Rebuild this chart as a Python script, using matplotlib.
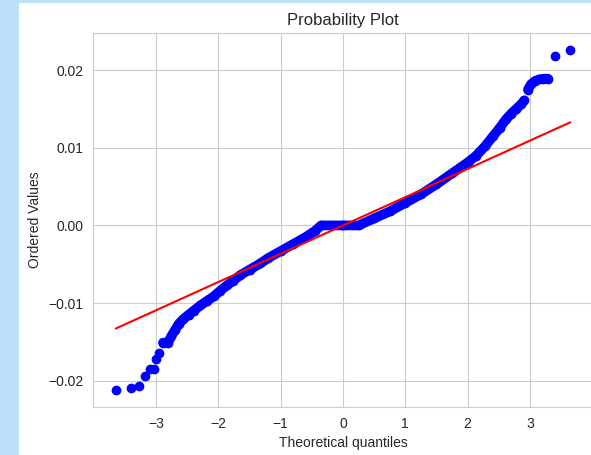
import numpy as np
import matplotlib
matplotlib.use('Agg')
import matplotlib.pyplot as plt
import seaborn as sns

# theoretical quantiles and ordered values
osm = [-3.65, -3.41, -3.27, -3.18, -3.10, -3.03, -3.00, -2.96, -2.89, -2.81,
       -2.76, -2.70, -2.64, -2.57, -2.48, -2.40, -2.29, -2.18, -2.07, -1.97,
       -1.86, -1.76, -1.65, -1.50, -1.33, -1.20, -1.00, -0.80, -0.60, -0.45,
       -0.35, 0.00, 0.25, 0.50, 0.75, 1.00, 1.25, 1.50, 1.75, 2.00,
       2.14, 2.28, 2.41, 2.52, 2.62, 2.70, 2.78, 2.86, 2.91,
       2.97, 3.02, 3.08, 3.15, 3.22, 3.29, 3.40, 3.65]
osr = [-0.0212, -0.0210, -0.0207, -0.0194, -0.0185, -0.0185, -0.0172, -0.0164, -0.0151, -0.0151,
       -0.0143, -0.0135, -0.0127, -0.0121, -0.0115, -0.0110, -0.0103, -0.0097, -0.0091, -0.0084,
       -0.0077, -0.0071, -0.0064, -0.0057, -0.0049, -0.0042, -0.0033, -0.0024, -0.0015, -0.0007,
       0.0000, 0.0000, 0.0000, 0.0009, 0.0018, 0.0029, 0.0040, 0.0053, 0.0067, 0.0081,
       0.0090, 0.0102, 0.0115, 0.0126, 0.0137, 0.0144, 0.0150, 0.0156, 0.0161,
       0.0175, 0.0182, 0.0186, 0.0188, 0.0189, 0.0189, 0.0218, 0.0226]

# least squares line
slope = 0.00364
intercept = 0.0

osm = np.array(osm)
osr = np.array(osr)

sns.set_style('whitegrid')
plt.rcParams['font.family'] = ['Liberation Sans', 'DejaVu Sans']

W, H = 591, 455
fig = plt.figure(figsize=(W / 100, H / 100), dpi=100)
fig.patch.set_facecolor('white')

# light blue screenshot border on the left and top
fig.patches.append(plt.Rectangle((0, 0), 19 / W, 1, transform=fig.transFigure,
                                 facecolor='#bde0f9', edgecolor='none', zorder=0))
fig.patches.append(plt.Rectangle((0, 1 - 3 / H), 1, 3 / H, transform=fig.transFigure,
                                 facecolor='#bde0f9', edgecolor='none', zorder=0))

ax = fig.add_axes([93 / W, (H - 407) / H, 500 / W, 374 / H])

# dense runs of markers look like a solid band
for a, b in [(8, 49), (49, 55)]:
    ax.plot(osm[a:b], osr[a:b], '-', color='b', lw=7,
            solid_capstyle='round', solid_joinstyle='round')
ax.plot(osm, osr, 'bo')
ax.plot(osm, slope * osm + intercept, 'r-')

ax.set_title('Probability Plot')
ax.set_xlabel('Theoretical quantiles')
ax.set_ylabel('Ordered Values')
ax.set_xticks([-3, -2, -1, 0, 1, 2, 3])
ax.set_yticks([-0.02, -0.01, 0.0, 0.01, 0.02])

fig.savefig('out.png', dpi=100)
